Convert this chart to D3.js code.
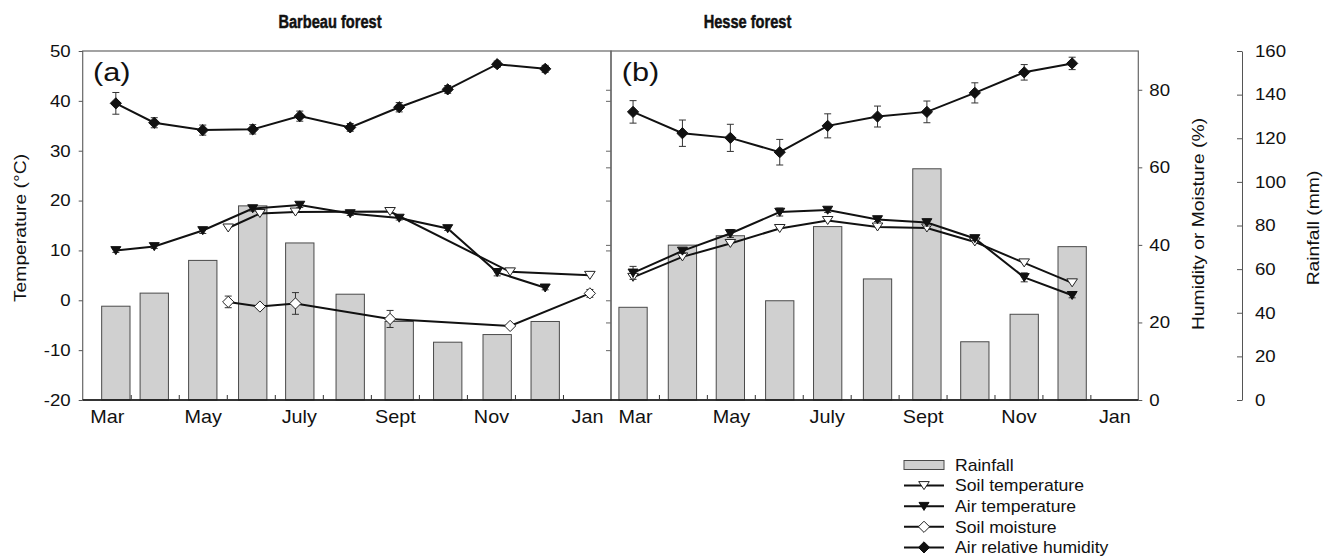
<!DOCTYPE html>
<html>
<head>
<meta charset="utf-8">
<script src="https://cdn.jsdelivr.net/npm/d3@7"></script>
<style>
  body { margin: 0; background: #fff; }
  svg { display: block; font-family: "Liberation Sans", Arial, Helvetica, sans-serif; }
</style>
</head>
<body>
<script>
//------------------------------------------------------------------------------
//
// Data (x = sampling date in months counted from 1 March)
//
//------------------------------------------------------------------------------

var monthLabels = ["Mar", "", "May", "", "July", "", "Sept", "", "Nov", "", "Jan"];
var legendLabels = ["Rainfall", "Soil temperature", "Air temperature", "Soil moisture", "Air relative humidity"];

// Barbeau forest
var barbeauDates   = [0.69, 1.49, 2.50, 3.54, 4.52, 5.57, 6.59, 7.60, 8.63, 9.63];
var barbeauRain    = [43, 49, 64, 89, 72, 48.5, 36, 26.5, 30, 36];
var barbeauAirT    = [10.0, 10.8, 14.0, 18.4, 19.1, 17.4, 16.5, 14.4, 5.6, 2.5];
var barbeauAirTErr = [0.4, 0.4, 0.6, 0.5, 0.5, 0.4, 0.4, 0.4, 0.7, 0.4];
var barbeauRH      = [76.5, 71.5, 69.6, 69.8, 73.2, 70.3, 75.5, 80.1, 86.6, 85.4];
var barbeauRHErr   = [2.8, 1.3, 1.3, 1.2, 1.3, 1.0, 1.2, 1.0, 0.8, 0.9];
var barbeauSoilDates = [3.03, 3.69, 4.43, 6.40, 8.90, 10.56];
var barbeauSoilT     = [14.5, 17.4, 17.7, 17.8, 5.7, 5.0];
var barbeauSoilM     = [25.3, 24.1, 24.9, 20.9, 19.1, 27.5];
var barbeauSoilMErr  = [1.5, 0, 2.8, 2.2, 0, 1.0];

// Hesse forest
var hesseDates   = [0.46, 1.49, 2.49, 3.52, 4.52, 5.56, 6.59, 7.59, 8.62, 9.62];
var hesseRain    = [42.5, 71, 75.3, 45.5, 79.5, 55.5, 106, 26.7, 39.3, 70.3];
var hesseAirT    = [5.5, 9.9, 13.4, 17.7, 18.1, 16.2, 15.6, 12.4, 4.6, 1.0];
var hesseAirTErr = [1.3, 0.5, 0.8, 0.8, 0.5, 0.4, 0.7, 0.4, 0.9, 0.5];
var hesseSoilT   = [4.6, 8.7, 11.4, 14.4, 16.0, 14.7, 14.5, 11.7, 7.5, 3.5];
var hesseRH      = [74.3, 68.8, 67.6, 63.9, 70.7, 73.1, 74.3, 79.2, 84.5, 86.8];
var hesseRHErr   = [2.9, 3.4, 3.5, 3.3, 3.1, 2.7, 2.8, 2.6, 2.0, 1.6];


//------------------------------------------------------------------------------
//
// Setup
//
//------------------------------------------------------------------------------

var plot = { top: 51, bottom: 400, left: 82.7, mid: 611, right: 1138.3 };

var xA = d3.scaleLinear().domain([0, 11]).range([plot.left, plot.mid]);
var xB = d3.scaleLinear().domain([0, 11]).range([plot.mid, plot.right]);
var yTemp = d3.scaleLinear().domain([-20, 50]).range([plot.bottom, plot.top]);
var yHum  = d3.scaleLinear().domain([0, 90]).range([plot.bottom, plot.top]);
var yRain = d3.scaleLinear().domain([0, 160]).range([plot.bottom, plot.top]);

var markers = {
  soilT: { path: "M-5.3,-4L5.3,-4L0,4Z", fill: "#fff", stroke: "#222" },
  airT:  { path: "M-5,-3.8L5,-3.8L0,4.2Z", fill: "#111", stroke: "#111" },
  soilM: { path: "M0,-5.6L5.6,0L0,5.6L-5.6,0Z", fill: "#fff", stroke: "#222" },
  rh:    { path: "M0,-5.6L5.6,0L0,5.6L-5.6,0Z", fill: "#111", stroke: "#111" }
};

var svg = d3.select("body").append("svg")
  .attr("width", 1338)
  .attr("height", 557);

// The figure's font runs wider than Arial, so widen text around its anchor.
function stretch(sel, k) {
  sel.each(function() {
    var t = d3.select(this), x = +t.attr("x") || 0;
    t.attr("transform", "translate(" + x + ",0) scale(" + k + ",1) translate(" + (-x) + ",0)");
  });
}

function styleAxis(g, size, k) {
  g.attr("color", "#111");
  g.selectAll(".tick line").attr("stroke", "#555");
  g.selectAll("text").attr("font-size", size).attr("fill", "#111").call(stretch, k);
}

// plain hyphen for negatives, as in the figure
var plainNum = function(d) { return String(d); };


//------------------------------------------------------------------------------
//
// Panels
//
//------------------------------------------------------------------------------

function drawBars(g, x, dates, rain) {
  var bw = x(0.59) - x(0);
  g.selectAll(null)
    .data(rain)
    .enter().append("rect")
      .attr("x", function(d, i) { return x(dates[i]) - bw / 2; })
      .attr("y", function(d) { return yRain(d); })
      .attr("width", bw)
      .attr("height", function(d) { return yRain(0) - yRain(d); })
      .attr("fill", "#d0d0d0")
      .attr("stroke", "#4a4a4a")
      .attr("stroke-width", 1);
}

function drawSeries(g, x, y, dates, values, errs, m) {
  var pts = dates.map(function(d, i) {
    return { x: x(d), v: values[i], e: errs ? errs[i] : 0 };
  });

  g.append("path")
    .datum(pts)
    .attr("d", d3.line().x(function(d) { return d.x; }).y(function(d) { return y(d.v); }))
    .attr("fill", "none")
    .attr("stroke", "#111")
    .attr("stroke-width", 2);

  var eb = g.selectAll(null)
    .data(pts.filter(function(p) { return p.e > 0; }))
    .enter().append("g")
      .attr("stroke", "#333")
      .attr("stroke-width", 1);
  eb.append("line")
    .attr("x1", function(d) { return d.x; }).attr("x2", function(d) { return d.x; })
    .attr("y1", function(d) { return y(d.v + d.e); }).attr("y2", function(d) { return y(d.v - d.e); });
  eb.append("line")
    .attr("x1", function(d) { return d.x - 3.5; }).attr("x2", function(d) { return d.x + 3.5; })
    .attr("y1", function(d) { return y(d.v + d.e); }).attr("y2", function(d) { return y(d.v + d.e); });
  eb.append("line")
    .attr("x1", function(d) { return d.x - 3.5; }).attr("x2", function(d) { return d.x + 3.5; })
    .attr("y1", function(d) { return y(d.v - d.e); }).attr("y2", function(d) { return y(d.v - d.e); });

  g.selectAll(null)
    .data(pts)
    .enter().append("path")
      .attr("transform", function(d) { return "translate(" + d.x + "," + y(d.v) + ")"; })
      .attr("d", m.path)
      .attr("fill", m.fill)
      .attr("stroke", m.stroke)
      .attr("stroke-width", 1);
}

function drawMonthAxis(x) {
  svg.append("g")
    .attr("transform", "translate(0," + plot.bottom + ")")
    .call(d3.axisBottom(x).tickValues(d3.range(1, 11)).tickSize(-5).tickFormat(""))
    .call(function(g) { g.select(".domain").remove(); })
    .selectAll(".tick line").attr("stroke", "#333");

  var labelPos = d3.range(0, 11).filter(function(i) { return monthLabels[i]; })
    .map(function(i) { return i + 0.5; });
  svg.append("g")
    .attr("transform", "translate(0," + plot.bottom + ")")
    .call(d3.axisBottom(x).tickValues(labelPos).tickSize(0).tickPadding(10.5)
      .tickFormat(function(d) { return monthLabels[d - 0.5]; }))
    .call(function(g) { g.select(".domain").remove(); })
    .call(styleAxis, 18, 1.1);
}

// Barbeau forest (a)
var gA = svg.append("g");
drawBars(gA, xA, barbeauDates, barbeauRain);
drawSeries(gA, xA, yHum, barbeauSoilDates, barbeauSoilM, barbeauSoilMErr, markers.soilM);
drawSeries(gA, xA, yTemp, barbeauSoilDates, barbeauSoilT, null, markers.soilT);
drawSeries(gA, xA, yTemp, barbeauDates, barbeauAirT, barbeauAirTErr, markers.airT);
drawSeries(gA, xA, yHum, barbeauDates, barbeauRH, barbeauRHErr, markers.rh);

// Hesse forest (b)
var gB = svg.append("g");
drawBars(gB, xB, hesseDates, hesseRain);
drawSeries(gB, xB, yTemp, hesseDates, hesseSoilT, null, markers.soilT);
drawSeries(gB, xB, yTemp, hesseDates, hesseAirT, hesseAirTErr, markers.airT);
drawSeries(gB, xB, yHum, hesseDates, hesseRH, hesseRHErr, markers.rh);

// Frames
[[plot.left, plot.mid], [plot.mid, plot.right]].forEach(function(p) {
  svg.append("rect")
    .attr("x", p[0]).attr("y", plot.top)
    .attr("width", p[1] - p[0]).attr("height", plot.bottom - plot.top)
    .attr("fill", "none")
    .attr("stroke", "#666")
    .attr("stroke-width", 1.2);
});
svg.append("line")
  .attr("x1", plot.left).attr("x2", plot.right)
  .attr("y1", plot.bottom).attr("y2", plot.bottom)
  .attr("stroke", "#111")
  .attr("stroke-width", 1.5);


//------------------------------------------------------------------------------
//
// Axes
//
//------------------------------------------------------------------------------

svg.append("g")
  .attr("transform", "translate(" + plot.left + ",0)")
  .call(d3.axisLeft(yTemp).tickValues(d3.range(-20, 51, 10)).tickSize(4).tickPadding(8).tickFormat(plainNum))
  .call(function(g) { g.select(".domain").remove(); })
  .call(styleAxis, 16.5, 1.13);

// unlabelled ticks on the shared border
svg.append("g")
  .attr("transform", "translate(" + plot.mid + ",0)")
  .call(d3.axisLeft(yTemp).tickValues(d3.range(-10, 50, 10)).tickSize(5).tickFormat(""))
  .call(function(g) { g.select(".domain").remove(); })
  .selectAll(".tick line").attr("stroke", "#666");
svg.append("g")
  .attr("transform", "translate(" + plot.mid + ",0)")
  .call(d3.axisLeft(yHum).tickValues([20, 40, 60, 80]).tickSize(5).tickFormat(""))
  .call(function(g) { g.select(".domain").remove(); })
  .selectAll(".tick line").attr("stroke", "#666");

svg.append("g")
  .attr("transform", "translate(" + plot.right + ",0)")
  .call(d3.axisRight(yHum).tickValues([0, 20, 40, 60, 80]).tickSize(4).tickPadding(7).tickFormat(plainNum))
  .call(function(g) { g.select(".domain").remove(); })
  .call(styleAxis, 16.5, 1.13);

svg.append("g")
  .attr("transform", "translate(1242,0)")
  .call(d3.axisRight(yRain).tickValues(d3.range(0, 161, 20)).tickSize(-5).tickSizeOuter(0).tickPadding(13).tickFormat(plainNum))
  .call(function(g) { g.select(".domain").attr("stroke", "#555"); })
  .call(styleAxis, 16.5, 1.13);

drawMonthAxis(xA);
drawMonthAxis(xB);


//------------------------------------------------------------------------------
//
// Titles and labels
//
//------------------------------------------------------------------------------

function vtitle(x, y, text) {
  svg.append("text")
    .attr("transform", "translate(" + x + "," + y + ") rotate(-90) scale(1.17,1)")
    .attr("text-anchor", "middle")
    .attr("font-size", 16.5)
    .attr("fill", "#111")
    .text(text);
}
vtitle(26, 228, "Temperature (\u00B0C)");
vtitle(1204, 224, "Humidity or Moisture (%)");
vtitle(1319, 228, "Rainfall (mm)");

[[330, "Barbeau forest"], [747.5, "Hesse forest"]].forEach(function(t) {
  svg.append("text")
    .attr("x", t[0]).attr("y", 28.3)
    .attr("text-anchor", "middle")
    .attr("font-size", 19)
    .attr("font-weight", "bold")
    .attr("fill", "#111")
    .attr("stroke", "#111")
    .attr("stroke-width", 0.5)
    .text(t[1])
    .call(stretch, 0.77);
});

[[93, "(a)"], [621.7, "(b)"]].forEach(function(t) {
  svg.append("text")
    .attr("x", t[0]).attr("y", 81)
    .attr("font-size", 26)
    .attr("fill", "#111")
    .text(t[1])
    .call(stretch, 1.18);
});


//------------------------------------------------------------------------------
//
// Legend
//
//------------------------------------------------------------------------------

var legendMarks = [null, markers.soilT, markers.airT, markers.soilM, markers.rh];
var lg = svg.append("g").attr("transform", "translate(904,465)");
legendLabels.forEach(function(label, i) {
  var row = lg.append("g").attr("transform", "translate(0," + (i * 20.6) + ")");
  if(!legendMarks[i]) {
    row.append("rect")
      .attr("x", 0).attr("y", -4.5).attr("width", 40).attr("height", 9)
      .attr("fill", "#d0d0d0").attr("stroke", "#4a4a4a");
  } else {
    row.append("line")
      .attr("x1", 0).attr("x2", 40)
      .attr("stroke", "#111").attr("stroke-width", 2);
    row.append("path")
      .attr("transform", "translate(20,0)")
      .attr("d", legendMarks[i].path)
      .attr("fill", legendMarks[i].fill)
      .attr("stroke", legendMarks[i].stroke);
  }
  row.append("text")
    .attr("x", 51).attr("y", 0).attr("dy", "0.36em")
    .attr("font-size", 16)
    .attr("fill", "#111")
    .text(label)
    .call(stretch, 1.1);
});
</script>
</body>
</html>
